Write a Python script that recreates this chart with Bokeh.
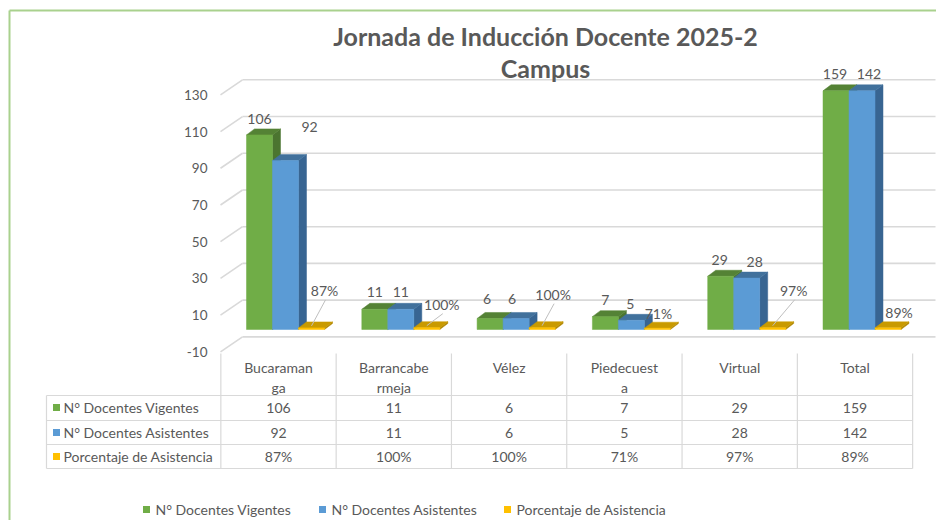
from bokeh.plotting import figure
from bokeh.models import Range1d
from bokeh.core.properties import value
from bokeh.embed import file_html
from bokeh.resources import INLINE

# ---------------- data ----------------
categories = ["Bucaramanga", "Barrancabermeja", "Vélez", "Piedecuesta", "Virtual", "Total"]
header_lines = [["Bucaraman", "ga"], ["Barrancabe", "rmeja"], ["Vélez"],
                ["Piedecuest", "a"], ["Virtual"], ["Total"]]
series_names = ["N° Docentes Vigentes", "N° Docentes Asistentes", "Porcentaje de Asistencia"]
vigentes = [106, 11, 6, 7, 29, 159]
asistentes = [92, 11, 6, 5, 28, 142]
porcentaje = [87, 100, 100, 71, 97, 89]          # percent
y_ticks = [-10, 10, 30, 50, 70, 90, 110, 130]
y_axis_max = 130
title_lines = ["Jornada de Inducción Docente 2025-2", "Campus"]

# ---------------- style ----------------
FONT = value("Lato")
TXT = "#595959"
GRID = "#D9D9D9"
FRONT = ["#70AD47", "#5B9BD5", "#FFC000"]
TOP = ["#548235", "#41719C", "#C99A00"]
SIDE = ["#4B7530", "#386592", "#B08600"]
FS = "14px"

# layout (pixels in the picture)
PX0, PXU = 278.0, 115.3      # x of first category centre, px per category
PY0, PYU = 329.0, 1.836      # y of value 0 (bar plane), px per value unit
PAGE_L, PAGE_T, W, H = 0, 0, 936, 520


def X(px):
    return (px - PX0) / PXU


def Y(py):
    return (PY0 - py) / PYU


def DX(d):
    return d / PXU


def DY(d):
    return d / PYU


BAR_W, GROUP_START = 26, -32
DEPTH_DX, DEPTH_DY = 8, 6
FRONT_DY = 4          # front plane is 4px below bar plane
WALL_DX, WALL_DY = 22, 15

p = figure(width=W, height=H, output_backend="svg", toolbar_location=None,
           x_axis_type=None, y_axis_type=None, min_border=0,
           x_range=Range1d(X(PAGE_L), X(PAGE_L + W)),
           y_range=Range1d(Y(PAGE_T + H), Y(PAGE_T)))
p.outline_line_color = None
p.background_fill_color = "white"
p.border_fill_color = "white"

# green frame of the chart object
p.segment(x0=[X(9), X(9)], y0=[Y(10), Y(10)], x1=[X(9), X(940)], y1=[Y(525), Y(10)],
          line_color="#A9D18E", line_width=2)

# ---------------- walls / gridlines ----------------
front_y = [t - DY(FRONT_DY) for t in y_ticks]
back_y = [t - DY(FRONT_DY) + DY(WALL_DY) for t in y_ticks]
p.segment(x0=[X(220 + WALL_DX)] * len(y_ticks), y0=back_y,
          x1=[X(935)] * len(y_ticks), y1=back_y, line_color=GRID, line_width=1.6)
p.segment(x0=[X(220)] * len(y_ticks), y0=front_y,
          x1=[X(220 + WALL_DX)] * len(y_ticks), y1=back_y, line_color=GRID, line_width=1.6)
p.text(x=[X(207)] * len(y_ticks), y=front_y, text=[str(t) for t in y_ticks],
       text_font=FONT, text_font_size="13.5px", text_color=TXT,
       text_align="right", text_baseline="middle")

# ---------------- 3D bars ----------------
series_vals = [vigentes, asistentes, [v / 100 for v in porcentaje]]
ddx, ddy = DX(DEPTH_DX), DY(DEPTH_DY)
bar_geo = []
for s, vals in enumerate(series_vals):
    lefts, rights, tops = [], [], []
    side_xs, side_ys, top_xs, top_ys = [], [], [], []
    for i, v in enumerate(vals):
        h = min(v, y_axis_max)
        l = i + DX(GROUP_START + s * BAR_W)
        r = l + DX(BAR_W)
        lefts.append(l)
        rights.append(r)
        tops.append(h)
        side_xs.append([r, r + ddx, r + ddx, r])
        side_ys.append([0, ddy, h + ddy, h])
        top_xs.append([l, l + ddx, r + ddx, r])
        top_ys.append([h, h + ddy, h + ddy, h])
    bar_geo.append((lefts, rights, tops))
    p.patches(xs=side_xs, ys=side_ys, fill_color=SIDE[s], line_color=SIDE[s], line_width=0.5)
    p.patches(xs=top_xs, ys=top_ys, fill_color=TOP[s], line_color=TOP[s], line_width=0.5)
    p.quad(left=lefts, right=rights, bottom=[0] * len(vals), top=tops,
           fill_color=FRONT[s], line_color=FRONT[s], line_width=0.5)

# ---------------- data labels ----------------
label_dx = [[0, 0, -3, 0, -1, -1], [24, 0, -4, -1, 8, 7], [13, 15, 11, 1, 21, 11]]
label_up = [[16, 17, 19, 17, 16, 17], [34, 17, 19, 16, 16, 17], [37, 23, 33, 15, 37, 15]]
label_txt = [[str(v) for v in vigentes], [str(v) for v in asistentes],
             [f"{v}%" for v in porcentaje]]
for s in range(3):
    lefts, rights, tops = bar_geo[s]
    cx = [(l + r) / 2 for l, r in zip(lefts, rights)]
    lx = [c + DX(d) for c, d in zip(cx, label_dx[s])]
    ly = [t + DY(u) for t, u in zip(tops, label_up[s])]
    p.text(x=lx, y=ly, text=label_txt[s], text_font=FONT, text_font_size=FS,
           text_color=TXT, text_align="center", text_baseline="middle")
    if s == 2:
        x0, y0, x1, y1 = [], [], [], []
        for c, t, x_, y_, u in zip(cx, tops, lx, ly, label_up[s]):
            if u > 20:
                x0.append(c)
                y0.append(t + DY(2))
                x1.append(x_ + DX(1))
                y1.append(y_ - DY(9))
        p.segment(x0=x0, y0=y0, x1=x1, y1=y1, line_color="#BFBFBF", line_width=1)

# ---------------- data table ----------------
n = len(categories)
row_lines = [395, 420, 444, 468]
p.segment(x0=[X(46)] * len(row_lines), y0=[Y(r) for r in row_lines],
          x1=[n - 0.5] * len(row_lines), y1=[Y(r) for r in row_lines],
          line_color=GRID, line_width=1.2)
col_x = [k - 0.5 for k in range(n + 1)]
p.segment(x0=col_x, y0=[Y(353)] * len(col_x), x1=col_x, y1=[Y(468)] * len(col_x),
          line_color=GRID, line_width=1.2)
p.segment(x0=[X(46)], y0=[Y(395)], x1=[X(46)], y1=[Y(468)], line_color=GRID, line_width=1.2)

hx, hy, ht = [], [], []
for i, lines in enumerate(header_lines):
    for k, t in enumerate(lines):
        hx.append(i)
        hy.append(Y(367 + 19.5 * k))
        ht.append(t)
p.text(x=hx, y=hy, text=ht, text_font=FONT, text_font_size=FS, text_color=TXT,
       text_align="center", text_baseline="middle")

row_y = [407, 432, 456]
for s in range(3):
    p.text(x=list(range(n)), y=[Y(row_y[s])] * n, text=label_txt[s], text_font=FONT,
           text_font_size=FS, text_color=TXT, text_align="center",
           text_baseline="middle")
p.scatter(x=[X(56)] * 3, y=[Y(r) for r in row_y], marker="square", size=7,
          fill_color=FRONT, line_color=None)
p.text(x=[X(63)] * 3, y=[Y(r) for r in row_y], text=series_names, text_font=FONT,
       text_font_size=FS, text_color=TXT, text_align="left", text_baseline="middle")

# ---------------- legend ----------------
leg_sq = [146, 322, 507]
leg_y = 509
p.scatter(x=[X(v) for v in leg_sq], y=[Y(leg_y)] * 3, marker="square", size=7,
          fill_color=FRONT, line_color=None)
p.text(x=[X(v + 9) for v in leg_sq], y=[Y(leg_y)] * 3, text=series_names, text_font=FONT,
       text_font_size=FS, text_color=TXT, text_align="left", text_baseline="middle")

# ---------------- title ----------------
p.text(x=[X(545)] * 2, y=[Y(35), Y(67)], text=title_lines, text_font=FONT,
       text_font_size="25px", text_font_style="bold", text_color=TXT,
       text_align="center", text_baseline="middle")

open("out.html", "w").write(file_html(p, INLINE))
